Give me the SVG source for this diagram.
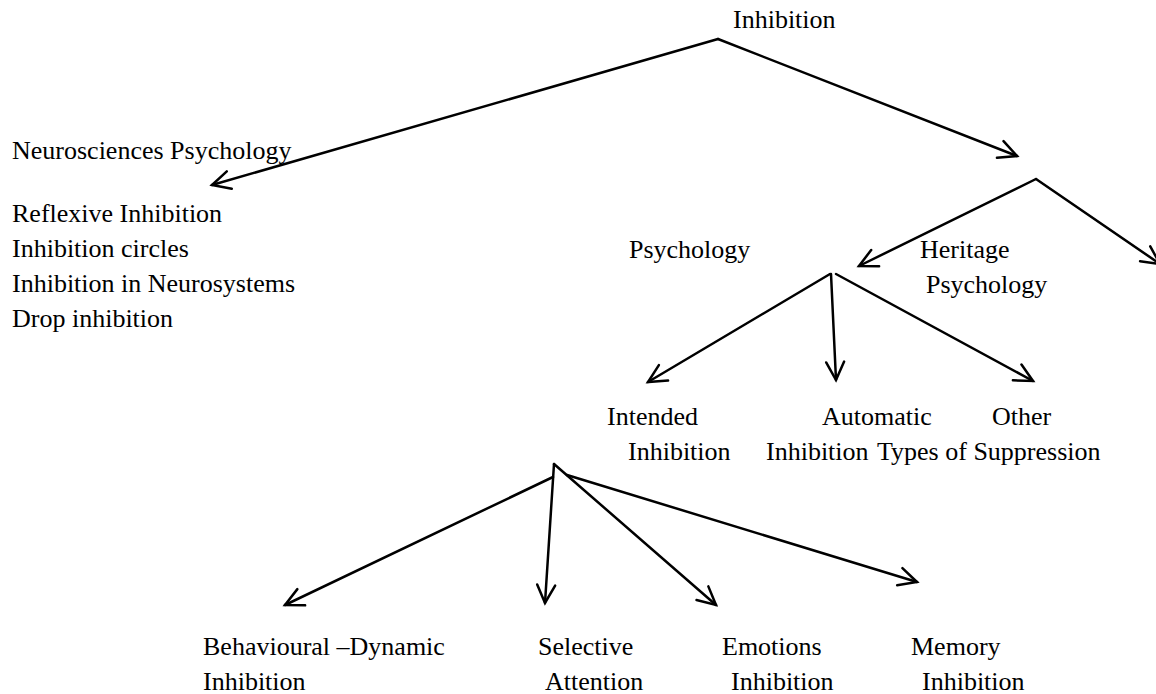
<svg xmlns="http://www.w3.org/2000/svg" width="1156" height="694" viewBox="0 0 1156 694">
<style>
text{font-family:"Liberation Serif","Times New Roman",serif;font-size:26px;fill:#000}
.c{fill:none;stroke:#000;stroke-width:2.5;stroke-linecap:round;marker-end:url(#v)}
</style>
<defs>
<marker id="v" markerUnits="userSpaceOnUse" viewBox="-22 -12 26 24" refX="0" refY="0" markerWidth="26" markerHeight="24" orient="auto" overflow="visible">
<path d="M-18,-9 L0,0 L-18,9" fill="none" stroke="#000" stroke-width="2.5" stroke-linecap="round" stroke-linejoin="miter"/>
</marker>
</defs>
<rect width="1156" height="694" fill="#fff"/>
<g id="connectors">
<path class="c" d="M718,39 L212,185"/>
<path class="c" d="M718,39 L1017,156"/>
<path class="c" d="M1036,179 L859,266"/>
<path class="c" d="M1036,179 L1160,264"/>
<path class="c" d="M830,274 L648,382"/>
<path class="c" d="M831,274 L836,380"/>
<path class="c" d="M836,274 L1033,381"/>
<path class="c" d="M553,477 L285,605"/>
<path class="c" d="M554,464 L545,603"/>
<path class="c" d="M554,464 L716,605"/>
<path class="c" d="M567,475 L917,582"/>
</g>
<g id="node-inhibition"><text x="733" y="28">Inhibition</text></g>
<g id="node-neurosciences"><text x="12" y="159">Neurosciences Psychology</text></g>
<g id="node-neuro-list">
<text x="12" y="222">Reflexive Inhibition</text>
<text x="12" y="257">Inhibition circles</text>
<text x="12" y="292">Inhibition in Neurosystems</text>
<text x="12" y="327">Drop inhibition</text>
</g>
<g id="node-psychology"><text x="629" y="258">Psychology</text></g>
<g id="node-heritage"><text x="920" y="258">Heritage</text><text x="926" y="293">Psychology</text></g>
<g id="node-intended"><text x="607" y="425">Intended</text><text x="628" y="460">Inhibition</text></g>
<g id="node-automatic"><text x="822" y="425">Automatic</text><text x="766" y="460">Inhibition</text></g>
<g id="node-other"><text x="992" y="425">Other</text><text x="877" y="460">Types of Suppression</text></g>
<g id="node-behavioural"><text x="203" y="655">Behavioural –Dynamic</text><text x="203" y="690">Inhibition</text></g>
<g id="node-selective"><text x="538" y="655">Selective</text><text x="545" y="690">Attention</text></g>
<g id="node-emotions"><text x="722" y="655">Emotions</text><text x="731" y="690">Inhibition</text></g>
<g id="node-memory"><text x="911" y="655">Memory</text><text x="922" y="690">Inhibition</text></g>
</svg>
